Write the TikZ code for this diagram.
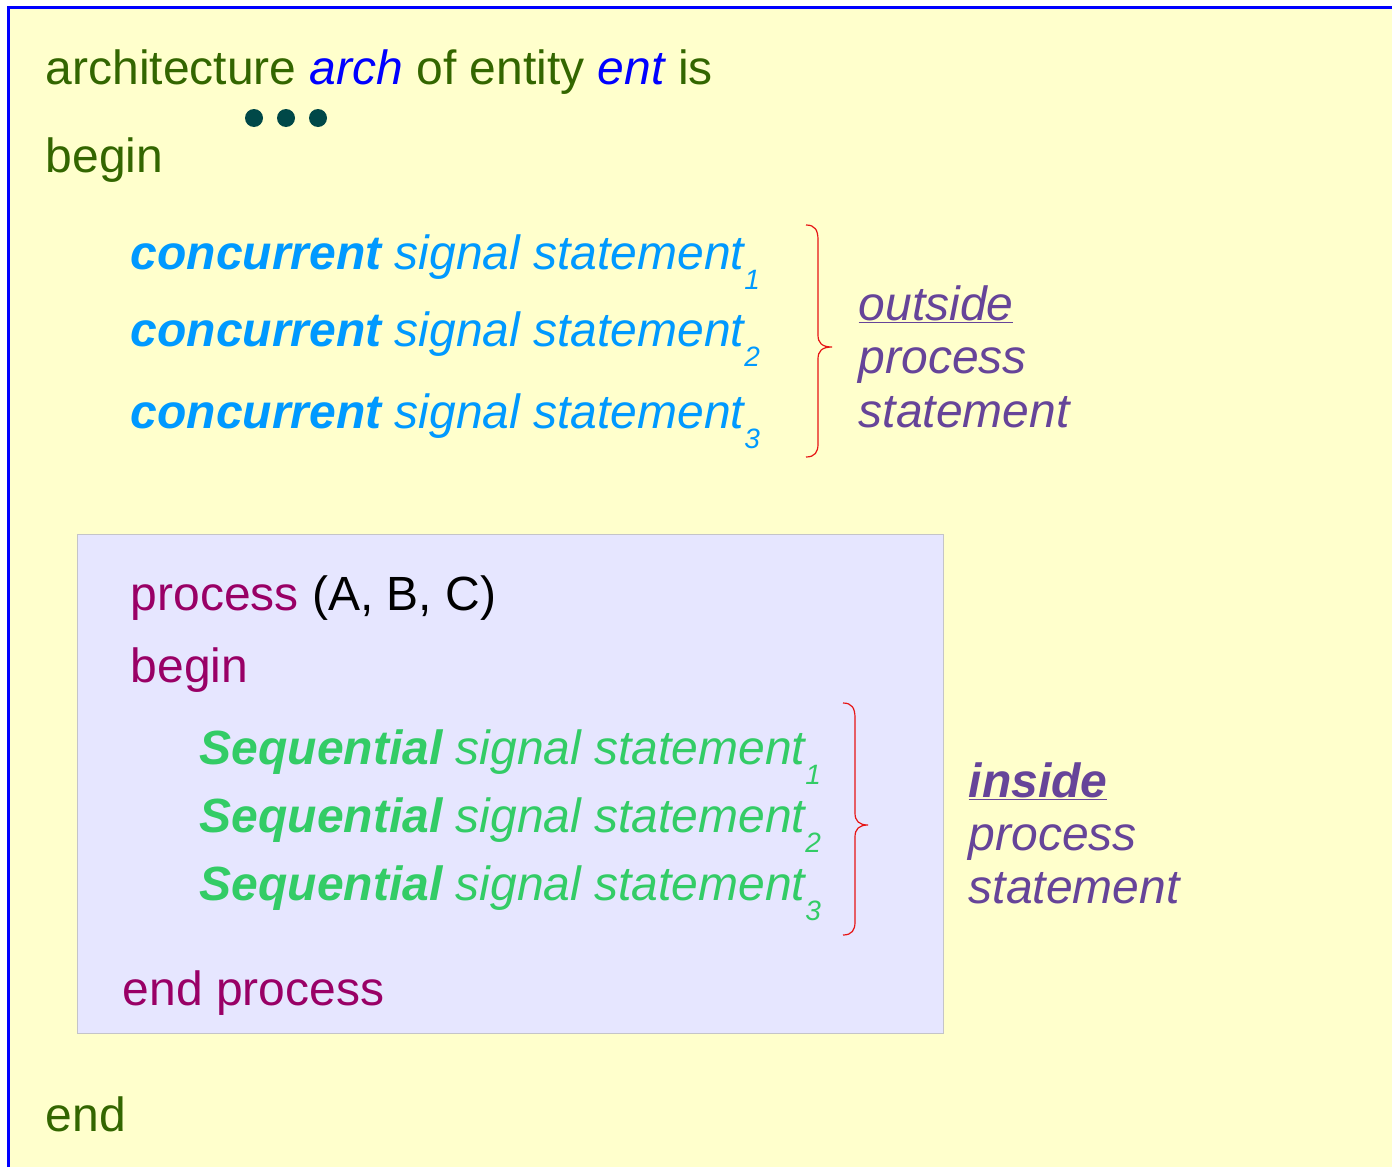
\documentclass[tikz,border=0pt]{standalone}
\usepackage{fontspec}
\setmainfont{Liberation Sans}
\definecolor{archgreen}{RGB}{51,102,0}
\definecolor{namblue}{RGB}{0,0,255}
\definecolor{concblue}{RGB}{0,153,255}
\definecolor{labpurple}{RGB}{102,68,153}
\definecolor{procmag}{RGB}{153,0,102}
\definecolor{seqgreen}{RGB}{51,204,102}
\definecolor{bgyellow}{RGB}{255,255,204}
\definecolor{boxfill}{RGB}{230,230,255}
\definecolor{boxline}{RGB}{196,196,200}
\definecolor{dotc}{RGB}{0,72,72}
\definecolor{bracered}{RGB}{230,20,20}
\newcommand{\sbs}[1]{\raisebox{-20pt}{\fontsize{28}{28}\selectfont #1}}
\tikzset{
  txt/.style={anchor=base west, inner sep=0pt, font=\fontsize{48}{56}\selectfont},
  dotnode/.style={circle, fill=dotc, inner sep=0pt, minimum size=18pt},
  bracepath/.style={draw=bracered, line width=1.2pt},
}
\begin{document}
\begin{tikzpicture}[x=1pt,y=-1pt]
\useasboundingbox (0,0) rectangle (1392,1167);
\fill[white] (0,0) rectangle (1392,1167);
\fill[bgyellow] (9,7) rectangle (1392,1167);
\draw[namblue, line width=3pt] (8.5,1167) -- (8.5,7) -- (1392,7);

% header
\node[txt, text=archgreen] (arch) at (45.5,84) {architecture \textit{\textcolor{namblue}{arch}} of entity \textit{\textcolor{namblue}{ent}} is};
\node[dotnode] (d1) at (254,118) {};
\node[dotnode] (d2) at (286,118) {};
\node[dotnode] (d3) at (318,118) {};
\node[txt, text=archgreen] (begin1) at (45.5,172) {begin};

% concurrent statements
\node[txt, text=concblue, font=\fontsize{48}{56}\selectfont\itshape] (c1) at (130.5,269) {\textbf{concurrent} signal statement\sbs{1}};
\node[txt, text=concblue, font=\fontsize{48}{56}\selectfont\itshape] (c2) at (130.5,346) {\textbf{concurrent} signal statement\sbs{2}};
\node[txt, text=concblue, font=\fontsize{48}{56}\selectfont\itshape] (c3) at (130.5,428) {\textbf{concurrent} signal statement\sbs{3}};

% brace 1
\coordinate (b1t) at (806,225);
\coordinate (b1m) at (832,347);
\coordinate (b1b) at (806,457);
\draw[bracepath] (b1t) .. controls (815,225) and (818,230) .. (818,240) -- (818,335)
  .. controls (818,343) and (822,347) .. (b1m)
  .. controls (822,347) and (818,351) .. (818,359) -- (818,444)
  .. controls (818,452) and (815,457) .. (b1b);

\node[txt, text=labpurple, font=\fontsize{48}{56}\selectfont\itshape] (out1) at (858.5,320) {\underline{outside}};
\node[txt, text=labpurple, font=\fontsize{48}{56}\selectfont\itshape] (out2) at (858.5,373) {process};
\node[txt, text=labpurple, font=\fontsize{48}{56}\selectfont\itshape] (out3) at (858.5,427) {statement};

% process box
\node[draw=boxline, fill=boxfill, line width=1.5pt, anchor=north west, inner sep=0pt,
      minimum width=866pt, minimum height=499pt] (pbox) at (76.5,533.5) {};

\node[txt, text=procmag] (proc) at (130.5,610) {process \textcolor{black}{(A, B, C)}};
\node[txt, text=procmag] (begin2) at (130.5,682) {begin};

\node[txt, text=seqgreen, font=\fontsize{48}{56}\selectfont\itshape] (s1) at (199.5,764) {\textbf{Sequential} signal statement\sbs{1}};
\node[txt, text=seqgreen, font=\fontsize{48}{56}\selectfont\itshape] (s2) at (199.5,832) {\textbf{Sequential} signal statement\sbs{2}};
\node[txt, text=seqgreen, font=\fontsize{48}{56}\selectfont\itshape] (s3) at (199.5,900) {\textbf{Sequential} signal statement\sbs{3}};

% brace 2
\coordinate (b2t) at (843,703);
\coordinate (b2m) at (868,825);
\coordinate (b2b) at (843,935);
\draw[bracepath] (b2t) .. controls (852,703) and (855,708) .. (855,718) -- (855,813)
  .. controls (855,821) and (859,825) .. (b2m)
  .. controls (859,825) and (855,829) .. (855,837) -- (855,922)
  .. controls (855,930) and (852,935) .. (b2b);

\node[txt, text=labpurple, font=\fontsize{48}{56}\selectfont\bfseries\itshape] (in1) at (968.5,797) {\underline{inside}};
\node[txt, text=labpurple, font=\fontsize{48}{56}\selectfont\itshape] (in2) at (968.5,850) {process};
\node[txt, text=labpurple, font=\fontsize{48}{56}\selectfont\itshape] (in3) at (968.5,903) {statement};

\node[txt, text=procmag] (endp) at (122.5,1005) {end process};
\node[txt, text=archgreen] (endarch) at (45.5,1131) {end};
\end{tikzpicture}
\end{document}
